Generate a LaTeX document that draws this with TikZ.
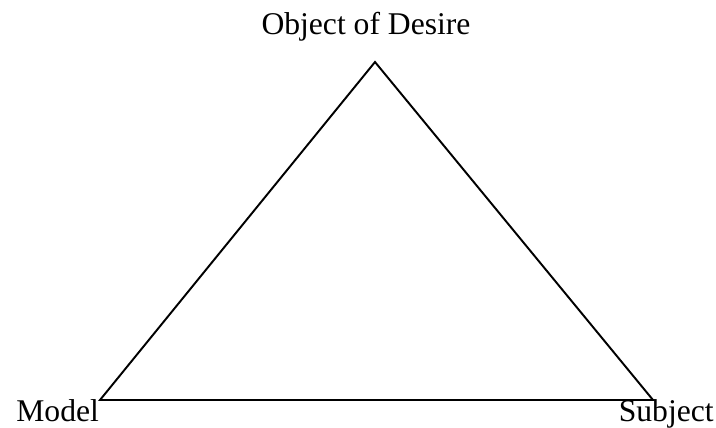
\documentclass[tikz,border=0pt]{standalone}
\usepackage{fontspec}
\setmainfont{Liberation Serif}
\usetikzlibrary{positioning}

\begin{document}
\begin{tikzpicture}[
  x=0.02cm, y=-0.02cm,
  cornerlab/.style={font=\fontsize{18}{22}\selectfont, inner sep=0pt},
  triline/.style={line width=1.1pt, line join=miter}
]
\useasboundingbox (0,0) rectangle (716,428);

% ---- Corners of the triangle ----------------------------------------------
\coordinate (apex) at (375,62);
\coordinate (left) at (100,400);
\coordinate (right) at (653,400);

% ---- Labels -----------------------------------------------------------------
\node[cornerlab, anchor=base] (desire) at (366,35) {Object of Desire};
\node[cornerlab, anchor=base west] (model) at (16,421) {Model};
\node[cornerlab, anchor=base east] (subject) at (714,421) {Subject};

% ---- Triangle ---------------------------------------------------------------
\draw[triline] (apex) -- (left) -- (right) -- cycle;

\end{tikzpicture}
\end{document}
